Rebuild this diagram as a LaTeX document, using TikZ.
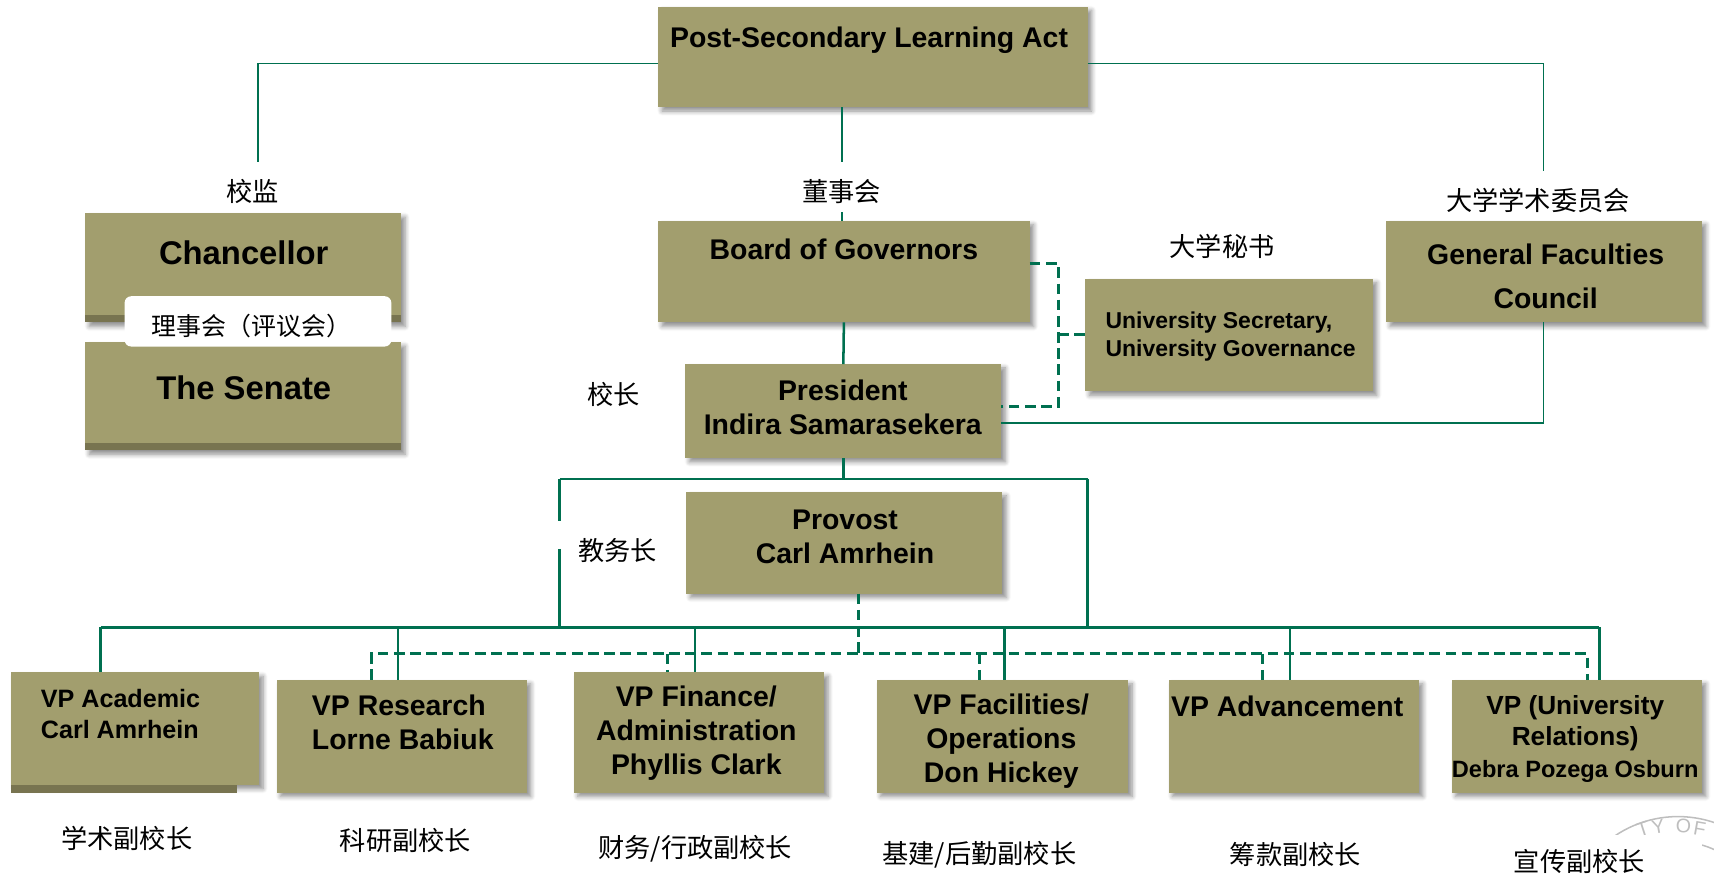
\documentclass[tikz,border=0pt]{standalone}
\usepackage{fontspec}
\setmainfont{Liberation Sans}
\newfontfamily\cjk{Noto Sans CJK SC}
\usetikzlibrary{shadows.blur,fit}
\definecolor{boxfill}{RGB}{162,158,110}
\definecolor{boxband}{RGB}{120,116,80}
\definecolor{linegreen}{RGB}{0,112,80}
\definecolor{sealgray}{RGB}{190,190,190}
\tikzset{
  orgbox/.style={draw=none, fill=boxfill, inner sep=0pt, outer sep=0pt,
    blur shadow={shadow xshift=1.8pt, shadow yshift=-1.8pt, shadow blur steps=6, shadow opacity=45}},
  boxtext/.style={font=\bfseries\fontsize{13}{15.5}\selectfont, align=center, inner sep=0pt, text=black},
  cnlabel/.style={font=\cjk\fontsize{12}{14}\selectfont, inner sep=0pt, text=black},
  solidconn/.style={draw=linegreen, line width=1.15pt},
  thinconn/.style={draw=linegreen, line width=0.8pt},
  dashconn/.style={draw=linegreen, line width=1.3pt, dash pattern=on 4.9pt off 2.5pt},
  sealletter/.style={text=sealgray, font=\fontsize{9}{9}\selectfont, inner sep=0pt},
}
\begin{document}
\begin{tikzpicture}[x=0.5pt,y=-0.5pt]
\useasboundingbox (0,0) rectangle (1568,800);

% faint seal (bottom right)
\begin{scope}
  \clip (0,0) rectangle (1568,800);
  \draw[sealgray, line width=0.7pt] (1535,850) circle [radius=103];
  \draw[sealgray, line width=0.7pt] (1535,850) circle [radius=80];
  \node[sealletter, rotate=18] (sT) at (1503,759) {T};
  \node[sealletter, rotate=10] (sY) at (1517,756) {Y};
  \node[sealletter, rotate=-2] (sO) at (1540,756) {O};
  \node[sealletter, rotate=-10] (sF) at (1555,758) {F};
\end{scope}
\fill[white] (1380,764) rectangle (1557,800);

% ---------- boxes ----------
\node[orgbox, fit={(602,6) (995,98)}] (psla) {};
\node[orgbox, fit={(78,195) (367,295)}] (chan) {};
\fill[boxband] (78,288) rectangle (367,295);
\node[orgbox, fit={(78,313) (367,412)}] (senate) {};
\fill[boxband] (78,405) rectangle (367,412);
\node[fill=white, rounded corners=3pt, inner sep=0pt, fit={(114,271) (358,317)}] (senlbl) {};
\node[orgbox, fit={(602,202) (942,295)}] (bog) {};
\node[orgbox, fit={(993,255) (1256,358)}] (usec) {};
\node[orgbox, fit={(1268,202) (1557,295)}] (gfc) {};
\node[orgbox, fit={(627,333) (916,419)}] (pres) {};
\node[orgbox, fit={(628,450) (917,543)}] (prov) {};
\node[orgbox, fit={(10,615) (237,718)}] (vpa) {};
\fill[boxband] (10,718) rectangle (217,725);
\node[orgbox, fit={(253,622) (482,725)}] (vpr) {};
\node[orgbox, fit={(525,615) (754,725)}] (vpf) {};
\node[orgbox, fit={(802,622) (1032,725)}] (vpo) {};
\node[orgbox, fit={(1069,622) (1298,725)}] (vpadv) {};
\node[orgbox, fit={(1328,622) (1557,725)}] (vpu) {};

% ---------- box texts ----------
\node[boxtext] (psla-t) at (795,37) {Post-Secondary Learning Act};
\node[boxtext, font=\bfseries\fontsize{15}{18}\selectfont] (chan-t) at (223,231) {Chancellor};
\node[boxtext, font=\bfseries\fontsize{15}{18}\selectfont] (senate-t) at (223,355) {The Senate};
\node[cnlabel, font=\cjk\fontsize{11.4}{14}\selectfont] (senlbl-t) at (230,298) {理事会（评议会）};
\node[boxtext] (bog-t) at (772,228) {Board of Governors};
\node[boxtext, font=\bfseries\fontsize{10.5}{13}\selectfont, align=left, anchor=west] (usec-t) at (1011,308) {University Secretary,\\University Governance};
\node[boxtext, font=\bfseries\fontsize{13}{20}\selectfont] (gfc-t) at (1414,253) {General Faculties\\Council};
\node[boxtext] (pres-t) at (771,373) {President\\Indira Samarasekera};
\node[boxtext] (prov-t) at (773,491) {Provost\\Carl Amrhein};
\node[boxtext, font=\bfseries\fontsize{11.5}{14}\selectfont, align=left, anchor=west] (vpa-t) at (37,653) {VP Academic\\Carl Amrhein};
\node[boxtext, align=left, anchor=west] (vpr-t) at (285,661) {VP Research\\Lorne Babiuk};
\node[boxtext] (vpf-t) at (637,671) {VP Finance/\\Administration\\Phyllis Clark};
\node[boxtext] (vpo-t) at (916,678) {VP Facilities/\\Operations\\Don Hickey};
\node[boxtext, anchor=west] (vpadv-t) at (1071,646) {VP Advancement};
\node[boxtext, font=\bfseries\fontsize{12}{14.5}\selectfont] (vpu-t) at (1441,676) {VP (University\\Relations)\\{\fontsize{10.8}{14.5}\selectfont Debra Pozega Osburn}};

% ---------- Chinese labels ----------
\node[cnlabel] (l-jian) at (231,175) {校监};
\node[cnlabel] (l-dsh) at (770,175) {董事会};
\node[cnlabel] (l-mishu) at (1118,225) {大学秘书};
\node[cnlabel] (l-xswy) at (1407,183) {大学学术委员会};
\node[cnlabel] (l-xz) at (561,361) {校长};
\node[cnlabel] (l-jwz) at (565,504) {教务长};
\node[cnlabel] (l-vpa) at (116,767) {学术副校长};
\node[cnlabel] (l-vpr) at (371,769) {科研副校长};
\node[cnlabel] (l-vpf) at (636,776) {财务/行政副校长};
\node[cnlabel] (l-vpo) at (896,782) {基建/后勤副校长};
\node[cnlabel] (l-vpadv) at (1185,782) {筹款副校长};
\node[cnlabel] (l-vpu) at (1445,788) {宣传副校长};

% ---------- coordinates ----------
\coordinate (tl) at (236,58);
\coordinate (tr) at (1412,58);
\coordinate (chanTop) at (236,148);
\coordinate (gfcTop) at (1412,156);
\coordinate (c1) at (770,148);
\coordinate (c2) at (770,194);
\coordinate (dj1) at (968,241);
\coordinate (dj2) at (968,372);
\coordinate (dj3) at (968,306);
\coordinate (g1) at (1412,387);
\coordinate (hl) at (512,438);
\coordinate (hr) at (995,438);
\coordinate (gapT) at (512,477);
\coordinate (gapB) at (512,502);
\coordinate (bl) at (512,574);
\coordinate (br) at (995,574);
\coordinate (da) at (92,574);
\coordinate (dr) at (364,574);
\coordinate (df) at (636,574);
\coordinate (do) at (919,574);
\coordinate (dv) at (1180,574);
\coordinate (du) at (1463,574);
\coordinate (p1) at (785,598);
\coordinate (qr) at (340,598);
\coordinate (qf) at (611,598);
\coordinate (qo) at (896,598);
\coordinate (qv) at (1155,598);
\coordinate (qu) at (1452,598);

% ---------- connectors ----------
\draw[thinconn] (psla.west |- tl) -- (tl) -- (chanTop);
\draw[thinconn] (psla.east |- tr) -- (tr) -- (gfcTop);
\draw[thinconn] (psla.south -| c1) -- (c1);
\draw[thinconn] (c2) -- (bog.north -| c2);
\draw[solidconn] (bog.south) -- (pres.north);
\draw[dashconn] (bog.east |- dj1) -- (dj1) -- (dj2) -- (pres.east |- dj2);
\draw[dashconn] (dj3) -- (usec.west |- dj3);
\draw[thinconn] (gfc.south -| g1) -- (g1) -- (pres.east |- g1);
\draw[solidconn] (pres.south) -- (pres.south |- hl);
\draw[solidconn] (hl) -- (hr);
\draw[solidconn] (hl) -- (gapT);
\draw[solidconn] (gapB) -- (bl);
\draw[solidconn] (hr) -- (br);
\draw[solidconn] (da) -- (du);
\draw[solidconn] (da) -- (vpa.north -| da);
\draw[solidconn] (dr) -- (vpr.north -| dr);
\draw[solidconn] (df) -- (vpf.north -| df);
\draw[solidconn] (do) -- (vpo.north -| do);
\draw[solidconn] (dv) -- (vpadv.north -| dv);
\draw[solidconn] (du) -- (vpu.north -| du);
\draw[dashconn] (prov.south -| p1) -- (p1);
\draw[dashconn] (vpr.north -| qr) -- (qr) -- (qu) -- (vpu.north -| qu);
\draw[dashconn] (qf) -- (vpf.north -| qf);
\draw[dashconn] (qo) -- (vpo.north -| qo);
\draw[dashconn] (qv) -- (vpadv.north -| qv);
\end{tikzpicture}
\end{document}
